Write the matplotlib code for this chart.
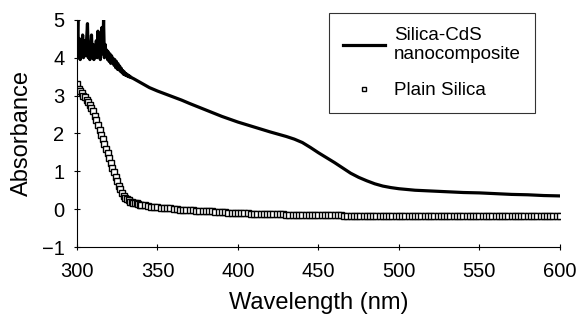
import matplotlib
matplotlib.use("Agg")
import matplotlib.pyplot as plt

plt.rcParams['font.family'] = ['Liberation Sans', 'DejaVu Sans']

# Silica-CdS nanocomposite: noisy part (0.5 nm) then smooth part
cds_wl = [300, 300.5, 301, 301.5, 302, 302.5, 303, 303.5, 304, 304.5, 305, 305.5,
          306, 306.5, 307, 307.5, 308, 308.5, 309, 309.5, 310, 310.5, 311, 311.5,
          312, 312.5, 313, 313.5, 314, 314.5, 315, 315.5, 316, 316.5, 317, 317.5,
          318, 318.5, 319, 319.5, 320, 320.5, 321, 321.5, 322, 322.5, 323, 323.5,
          324, 324.5, 325, 325.5, 326, 326.5, 327, 327.5, 328, 328.5, 329, 329.5,
          330, 330.5, 331, 331.5, 332, 332.5, 333, 333.5, 334, 335,
          340, 345, 350, 355, 360, 365, 370, 380, 390, 400, 410, 420, 425, 430, 435,
          440, 445, 450, 455, 460, 465, 470, 475, 480, 485, 490, 495, 500, 510,
          520, 530, 540, 550, 560, 570, 580, 590, 600]
cds_abs = [4.3, 5.0, 4.0, 4.5, 3.95, 4.4, 4.1, 4.6, 4.0, 4.45, 4.05, 4.2,
           4.5, 4.9, 4.0, 4.4, 3.95, 4.3, 4.6, 4.0, 4.35, 3.95, 4.3, 4.1,
           4.45, 4.0, 4.7, 4.05, 4.4, 3.95, 4.5, 4.8, 4.1, 5.0, 4.0, 4.35,
           4.05, 4.2, 3.95, 4.15, 3.9, 4.1, 3.85, 4.05, 3.88, 3.98, 3.8, 3.95,
           3.74, 3.9, 3.7, 3.84, 3.68, 3.78, 3.64, 3.72, 3.6, 3.66, 3.56, 3.62,
           3.54, 3.58, 3.52, 3.55, 3.5, 3.52, 3.48, 3.49, 3.47, 3.45,
           3.33, 3.21, 3.12, 3.04, 2.96, 2.88, 2.79, 2.62, 2.45, 2.3, 2.17, 2.04,
           1.98, 1.92, 1.85, 1.76, 1.63, 1.49, 1.36, 1.23, 1.09, 0.95, 0.84, 0.75,
           0.67, 0.61, 0.57, 0.54, 0.5, 0.48, 0.46, 0.44, 0.43, 0.41, 0.39, 0.38,
           0.36, 0.35]

# Plain silica
si_wl = list(range(300, 341)) + list(range(342, 601, 2))
si_abs = [3.30, 3.18, 3.12, 3.06, 3.00, 2.95, 2.89, 2.82, 2.75, 2.68,
          2.58, 2.47, 2.36, 2.22, 2.08, 1.95, 1.84, 1.72, 1.60, 1.48,
          1.36, 1.23, 1.10, 0.97, 0.85, 0.74, 0.62, 0.52, 0.43, 0.36,
          0.30, 0.26, 0.23, 0.20, 0.18, 0.17, 0.16, 0.15, 0.13, 0.12, 0.11,
          # 342-400
          0.10, 0.08, 0.07, 0.06, 0.05, 0.04, 0.03, 0.02, 0.02, 0.01,
          0.00, -0.01, -0.01, -0.02, -0.03, -0.03, -0.04, -0.04, -0.05, -0.05,
          -0.06, -0.06, -0.07, -0.07, -0.08, -0.08, -0.09, -0.09, -0.10, -0.10,
          # 402-460
          -0.11, -0.11, -0.11, -0.12, -0.12, -0.12, -0.13, -0.13, -0.13, -0.13,
          -0.14, -0.14, -0.14, -0.14, -0.15, -0.15, -0.15, -0.15, -0.15, -0.15,
          -0.16, -0.16, -0.16, -0.16, -0.16, -0.16, -0.16, -0.16, -0.16, -0.16,
          # 462-520
          -0.16, -0.16, -0.17, -0.17, -0.17, -0.17, -0.17, -0.17, -0.17, -0.17,
          -0.17, -0.17, -0.17, -0.17, -0.17, -0.17, -0.17, -0.17, -0.17, -0.17,
          -0.17, -0.17, -0.17, -0.17, -0.17, -0.17, -0.17, -0.17, -0.17, -0.17,
          # 522-580
          -0.17, -0.17, -0.17, -0.17, -0.17, -0.17, -0.17, -0.17, -0.17, -0.17,
          -0.17, -0.17, -0.17, -0.17, -0.17, -0.17, -0.17, -0.17, -0.17, -0.17,
          -0.17, -0.17, -0.17, -0.17, -0.17, -0.17, -0.17, -0.17, -0.17, -0.17,
          # 582-600
          -0.17, -0.17, -0.17, -0.17, -0.17, -0.17, -0.17, -0.17, -0.17, -0.17]

fig = plt.figure(figsize=(5.79, 3.2), dpi=100)
ax = fig.add_axes([0.133, 0.228, 0.834, 0.71])

ax.plot(cds_wl, cds_abs, color='black', lw=2.3, label='Silica-CdS\nnanocomposite', zorder=3)
ax.plot(si_wl, si_abs, ls='none', marker='s', ms=3.8, mfc='white', mec='black',
        mew=1.0, label='Plain Silica', zorder=2)

ax.set_xlim(300, 600)
ax.set_ylim(-1, 5)
ax.set_xticks([300, 350, 400, 450, 500, 550, 600])
ax.set_yticks([-1, 0, 1, 2, 3, 4, 5])
ax.spines['top'].set_visible(False)
ax.spines['right'].set_visible(False)
ax.spines['left'].set_linewidth(0.8)
ax.spines['bottom'].set_linewidth(0.8)
ax.tick_params(direction='inout', length=4, width=0.8, labelsize=14.5)
ax.tick_params(axis='x', pad=9)
ax.tick_params(axis='y', pad=7)

ax.set_xlabel('Wavelength (nm)', fontsize=17, labelpad=8)
ax.set_ylabel('Absorbance', fontsize=17, labelpad=6)

leg = ax.legend(loc='upper right', bbox_to_anchor=(0.948, 1.031), borderaxespad=0,
                fontsize=13.5, frameon=True, fancybox=False, edgecolor='black',
                handlelength=2.25, handletextpad=0.45, markerscale=0.6,
                labelspacing=1.0, borderpad=0.75)
leg.get_frame().set_linewidth(0.8)

fig.savefig('out.png', dpi=100)
